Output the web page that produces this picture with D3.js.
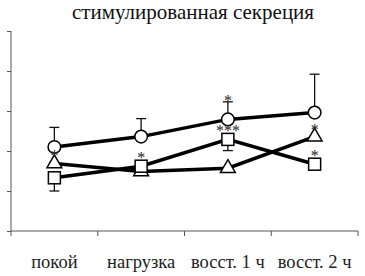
<!DOCTYPE html>
<html>
<head>
<meta charset="utf-8">
<script src="https://cdn.jsdelivr.net/npm/d3@7"></script>
<style>
  body { margin: 0; background: #fff; }
  text { font-family: "Liberation Serif", "DejaVu Serif", serif; }
</style>
</head>
<body>
<div id="chart"></div>
<script>
const widthChart = 365;
const heightChart = 276;

const categories = ["покой", "нагрузка", "восст. 1 ч", "восст. 2 ч"];
const yTicks = [0, 1, 2, 3, 4, 5];

// circles, error up
const circleValues = [2.1, 2.36, 2.79, 2.96];
const circleErr = [0.49, 0.45, 0.44, 0.96];
const circleStars = ["", "", "*", ""];

// triangles
const triValues = [1.69, 1.49, 1.57, 2.36];
const triStars = ["*", "", "", "*"];

// squares, error down
const squareValues = [1.33, 1.62, 2.29, 1.67];
const squareErr = [0.33, 0.12, 0.28, 0];
const squareStars = ["", "*", "***", "*"];

const margin = {left: 11, right: 7, top: 31, bottom: 45};

const svg = d3.select("#chart")
    .append("svg")
    .attr("width", widthChart)
    .attr("height", heightChart);

const x = d3.scaleBand()
    .domain(categories)
    .range([margin.left, widthChart - margin.right]);

const y = d3.scaleLinear()
    .domain([0, 5])
    .range([heightChart - margin.bottom, margin.top]);

const cx = d => x(d) + x.bandwidth() / 2;

svg.append("text")
    .attr("x", 193)
    .attr("y", 19)
    .attr("text-anchor", "middle")
    .attr("fill", "#111")
    .style("font-size", "21px")
    .text("стимулированная секреция");

// y axis
const yAxis = svg.append("g")
    .attr("transform", "translate(" + margin.left + ",0)")
    .call(d3.axisLeft(y).tickValues(yTicks).tickSize(4).tickFormat(""));
yAxis.selectAll("path, line").attr("stroke", "#555");
yAxis.select(".domain").attr("d", "M0," + y(5) + "V" + y(0));

// x axis
const xAxis = svg.append("g")
    .attr("transform", "translate(0," + y(0) + ")")
    .call(d3.axisBottom(x).tickSize(0).tickFormat(""));
xAxis.select(".domain").attr("stroke", "#555").attr("d", "M" + margin.left + ",0H" + (widthChart - margin.right));
xAxis.selectAll(".tick").remove();
const bounds = [margin.left].concat(categories.map(c => x(c) + x.bandwidth()));
xAxis.selectAll(".sep")
    .data(bounds)
    .enter()
    .append("line")
    .attr("x1", d => d).attr("x2", d => d)
    .attr("y1", 0).attr("y2", 5)
    .attr("stroke", "#555");
xAxis.selectAll(".lbl")
    .data(categories)
    .enter()
    .append("text")
    .attr("x", d => cx(d))
    .attr("y", 37)
    .attr("text-anchor", "middle")
    .style("font-size", "18.5px")
    .attr("fill", "#222")
    .text(d => d);

function errorBars(values, errs, dir) {
    const g = svg.append("g").attr("stroke", "#111").attr("stroke-width", 1.3);
    categories.forEach((c, i) => {
        if (!errs[i]) return;
        const y0 = y(values[i]);
        const y1 = y(values[i] + dir * errs[i]);
        g.append("line").attr("x1", cx(c)).attr("x2", cx(c)).attr("y1", y0).attr("y2", y1);
        g.append("line").attr("x1", cx(c) - 5).attr("x2", cx(c) + 5).attr("y1", y1).attr("y2", y1);
    });
}

errorBars(circleValues, circleErr, 1);
errorBars(squareValues, squareErr, -1);

const line = d3.line()
    .x((d, i) => cx(categories[i]))
    .y(d => y(d));

[squareValues, triValues, circleValues].forEach(vals => {
    svg.append("path")
        .datum(vals)
        .attr("d", line)
        .attr("fill", "none")
        .attr("stroke", "#000")
        .attr("stroke-width", 3.5);
});

svg.selectAll(".circ")
    .data(circleValues)
    .enter()
    .append("circle")
    .attr("cx", (d, i) => cx(categories[i]))
    .attr("cy", d => y(d))
    .attr("r", 6.3)
    .attr("fill", "#fff")
    .attr("stroke", "#000")
    .attr("stroke-width", 1.5);

svg.selectAll(".tri")
    .data(triValues)
    .enter()
    .append("path")
    .attr("d", d3.symbol().type(d3.symbolTriangle).size(95))
    .attr("transform", (d, i) => "translate(" + cx(categories[i]) + "," + y(d) + ")")
    .attr("fill", "#fff")
    .attr("stroke", "#000")
    .attr("stroke-width", 1.5);

svg.selectAll(".sq")
    .data(squareValues)
    .enter()
    .append("rect")
    .attr("x", (d, i) => cx(categories[i]) - 6)
    .attr("y", d => y(d) - 6)
    .attr("width", 12)
    .attr("height", 12)
    .attr("fill", "#fff")
    .attr("stroke", "#000")
    .attr("stroke-width", 1.5);

// stars in their own group, slight opacity keeps antialiasing grey
const starGroup = svg.append("g").attr("opacity", 0.99);

function stars(values, labels, offset) {
    starGroup.selectAll(null)
        .data(labels)
        .enter()
        .append("text")
        .attr("x", (d, i) => cx(categories[i]))
        .attr("y", (d, i) => y(values[i]) + offset)
        .attr("text-anchor", "middle")
        .attr("fill", "#222")
        .style("font-size", "16px")
        .text(d => d);
}

stars(circleValues.map((v, i) => v + circleErr[i]), circleStars, 4);
stars(triValues, triStars, -2);
stars(squareValues, squareStars, -3);
</script>
</body>
</html>
